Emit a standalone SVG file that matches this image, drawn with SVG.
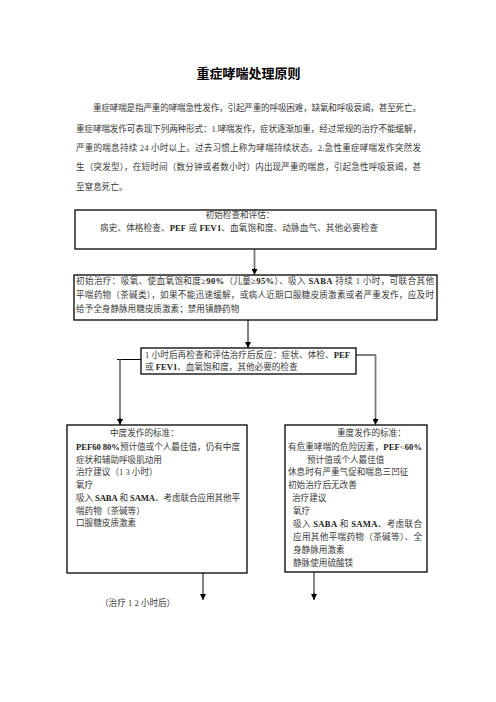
<svg xmlns="http://www.w3.org/2000/svg" width="496" height="702" viewBox="0 0 496 702">
<defs>
<marker id="ah" viewBox="0 0 6 6" refX="6" refY="3" markerWidth="6" markerHeight="6" markerUnits="userSpaceOnUse" orient="auto">
<path d="M0,0 L6,3 L0,6 Z" fill="#000"/>
</marker>
<style>
text{font-family:"Liberation Serif","Noto Sans CJK SC",serif;fill:#3a3a3a;font-size:8.6px}
.title{font-family:"Noto Sans CJK SC",sans-serif;font-size:13px;font-weight:bold;fill:#000}
.b{font-weight:bold;fill:#222}
.box{fill:#fff;stroke:#000;stroke-width:1.3}
.conn{fill:none;stroke:#7a7a7a;stroke-width:1.8}
.thin{fill:none;stroke:#000;stroke-width:1}
</style>
</defs>
<rect width="496" height="702" fill="#fff"/>
<text class="title" x="248.5" y="77.5" text-anchor="middle">重症哮喘处理原则</text>
<g id="intro">
<text x="93" y="111" textLength="328" lengthAdjust="spacing">重症哮喘是指严重的哮喘急性发作，引起严重的呼吸困难，缺氧和呼吸衰竭，甚至死亡。</text>
<text x="76" y="131.5" textLength="345" lengthAdjust="spacing">重症哮喘发作可表现下列两种形式：1.哮喘发作，症状逐渐加重，经过常规的治疗不能缓解，</text>
<text x="76" y="150.5" textLength="345" lengthAdjust="spacing">严重的喘息持续 24 小时以上。过去习惯上称为哮喘持续状态。2.急性重症哮喘发作突然发</text>
<text x="76" y="170" textLength="345" lengthAdjust="spacing">生（突发型），在短时间（数分钟或者数小时）内出现严重的喘息，引起急性呼吸衰竭，甚</text>
<text x="76" y="189.5">至窒息死亡。</text>
</g>
<g id="connectors">
<line class="conn" x1="254.5" y1="249" x2="254.5" y2="269"/>
<line class="thin" x1="254.5" y1="268" x2="254.5" y2="275" marker-end="url(#ah)"/>
<line class="thin" x1="248" y1="320" x2="248" y2="348" marker-end="url(#ah)"/>
<line class="thin" x1="141" y1="359.5" x2="117" y2="359.5"/>
<line class="conn" x1="120" y1="359.5" x2="120" y2="419"/>
<line class="thin" x1="120" y1="418" x2="120" y2="425" marker-end="url(#ah)"/>
<line class="thin" x1="356" y1="355" x2="376" y2="355"/>
<line class="conn" x1="375.5" y1="355" x2="375.5" y2="419"/>
<line class="thin" x1="375.5" y1="418" x2="375.5" y2="425" marker-end="url(#ah)"/>
<line class="thin" x1="203" y1="573" x2="203" y2="600" marker-end="url(#ah)"/>
<line class="conn" x1="314" y1="572" x2="314" y2="594"/>
<line class="thin" x1="314" y1="593" x2="314" y2="600" marker-end="url(#ah)"/>
</g>
<g id="initial-exam">
<rect class="box" x="75" y="210" width="361" height="39"/>
<text x="240" y="218" text-anchor="middle">初始检查和评估：</text>
<text x="100" y="231" textLength="278" lengthAdjust="spacing">病史、体格检查、<tspan class="b">PEF</tspan> 或 <tspan class="b">FEV1</tspan>、血氧饱和度、动脉血气、其他必要检查</text>
</g>
<g id="initial-treatment">
<rect class="box" x="74" y="275" width="363" height="45"/>
<text x="76" y="283.5" textLength="358" lengthAdjust="spacing">初始治疗：吸氧、使血氧饱和度≥<tspan class="b">90%</tspan>（儿童≥<tspan class="b">95%</tspan>）、吸入 <tspan class="b">SABA</tspan> 持续 1 小时，可联合其他</text>
<text x="76" y="297.5" textLength="358" lengthAdjust="spacing">平喘药物（茶碱类），如果不能迅速缓解，或病人近期口服糖皮质激素或者严重发作，应及时</text>
<text x="76" y="311.5">给予全身静脉用糖皮质激素；禁用镇静药物</text>
</g>
<g id="reassess">
<rect class="box" x="141" y="348" width="215" height="26"/>
<text x="145" y="358" textLength="205" lengthAdjust="spacing">1 小时后再检查和评估治疗后反应：症状、体检、<tspan class="b">PEF</tspan></text>
<text x="145" y="369.5">或 <tspan class="b">FEV1</tspan>、血氧饱和度，其他必要的检查</text>
</g>
<g id="moderate">
<rect class="box" x="67" y="425" width="180" height="148"/>
<text x="110" y="436">中度发作的标准：</text>
<text x="76" y="450" textLength="164" lengthAdjust="spacing"><tspan class="b">PEF60 80%</tspan>预计值或个人最佳值，仍有中度</text>
<text x="76" y="462.5">症状和辅助呼吸肌动用</text>
<text x="76" y="475">治疗建议（1 3 小时）</text>
<text x="76" y="487.5">氧疗</text>
<text x="76" y="500.5" textLength="164" lengthAdjust="spacing">吸入 <tspan class="b">SABA</tspan> 和 <tspan class="b">SAMA</tspan>、考虑联合应用其他平</text>
<text x="76" y="513.5">喘药物（茶碱等）</text>
<text x="76" y="526">口服糖皮质激素</text>
</g>
<g id="severe">
<rect class="box" x="285" y="425" width="142" height="147"/>
<text x="337" y="436">重度发作的标准：</text>
<text x="288" y="450" textLength="134" lengthAdjust="spacing">有危重哮喘的危险因素，<tspan class="b">PEF</tspan>&lt;<tspan class="b">60%</tspan></text>
<text x="307" y="462.5">预计值或个人最佳值</text>
<text x="288" y="475">休息时有严重气促和喘息三凹征</text>
<text x="288" y="487.5">初始治疗后无改善</text>
<text x="292" y="500.5">治疗建议</text>
<text x="293" y="514">氧疗</text>
<text x="293" y="526.5" textLength="129" lengthAdjust="spacing">吸入 <tspan class="b">SABA</tspan> 和 <tspan class="b">SAMA</tspan>、考虑联合</text>
<text x="293" y="540" textLength="129" lengthAdjust="spacing">应用其他平喘药物（茶碱等）、全</text>
<text x="293" y="553">身静脉用激素</text>
<text x="293" y="566">静脉使用硫酸镁</text>
</g>
<text x="100" y="606">（治疗 1 2 小时后）</text>
</svg>
